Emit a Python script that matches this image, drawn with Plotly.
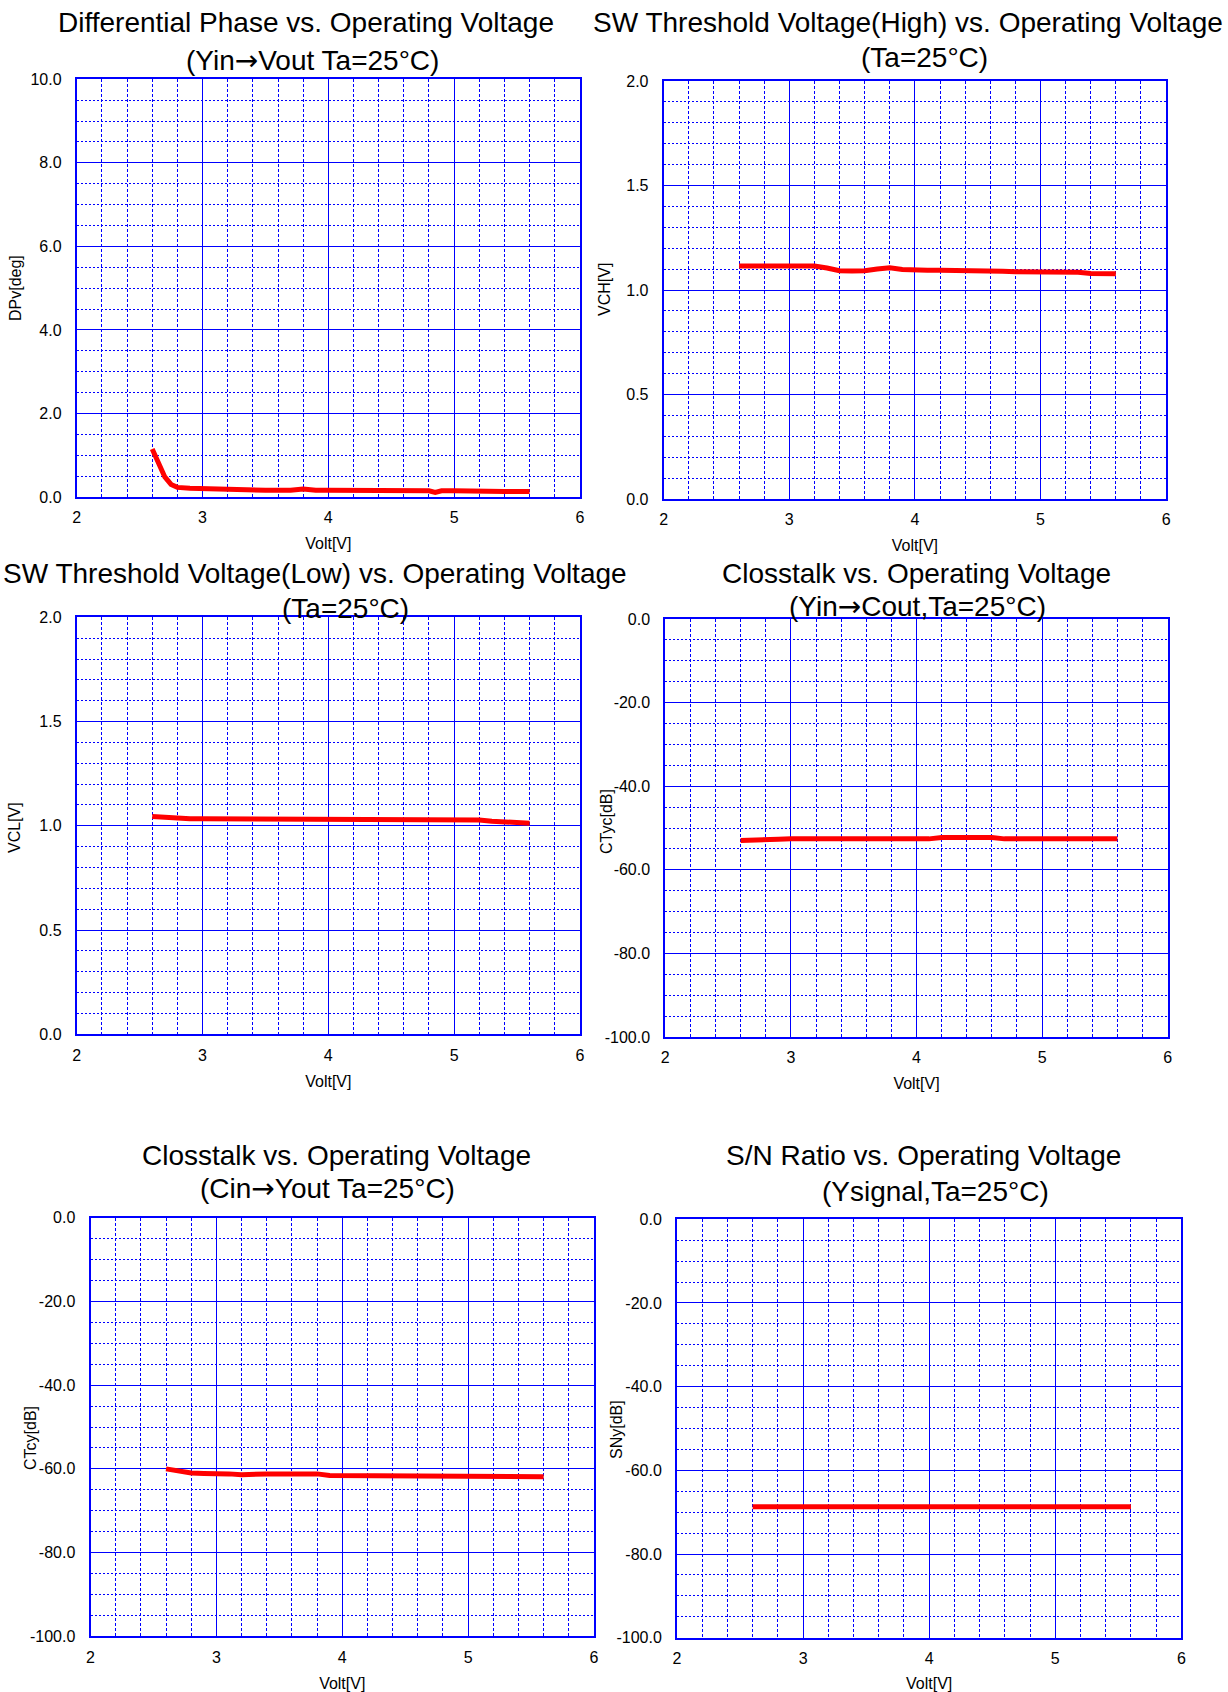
import plotly.graph_objects as go

W, H = 1228, 1692

# ---------------- data ----------------
VOLT_DP = [2.6, 2.65, 2.7, 2.75, 2.8, 2.9, 3.0, 3.1, 3.2, 3.3, 3.4, 3.5, 3.6, 3.7, 3.8, 3.9,
           4.0, 4.1, 4.2, 4.3, 4.4, 4.5, 4.6, 4.7, 4.8, 4.85, 4.9, 5.0, 5.1, 5.2, 5.3, 5.4, 5.5, 5.6]
DPV = [1.15, 0.78, 0.48, 0.30, 0.23, 0.21, 0.20, 0.18, 0.18, 0.18, 0.16, 0.16, 0.16, 0.16, 0.19, 0.16,
       0.16, 0.16, 0.16, 0.16, 0.16, 0.16, 0.16, 0.16, 0.15, 0.11, 0.15, 0.15, 0.14, 0.13, 0.13, 0.13, 0.13, 0.13]

VOLT = [2.6, 2.7, 2.8, 2.9, 3.0, 3.1, 3.2, 3.3, 3.4, 3.5, 3.6, 3.7, 3.8, 3.9, 4.0, 4.1,
        4.2, 4.3, 4.4, 4.5, 4.6, 4.7, 4.8, 4.9, 5.0, 5.1, 5.2, 5.3, 5.4, 5.5, 5.6]

VCH = [1.115, 1.115, 1.115, 1.115, 1.115, 1.115, 1.115, 1.105, 1.092, 1.091, 1.092, 1.100, 1.106, 1.098,
       1.095, 1.095, 1.095, 1.095, 1.095, 1.095, 1.095, 1.090, 1.087, 1.087, 1.087, 1.087, 1.087, 1.085,
       1.079, 1.078, 1.078]

VCL = [1.045, 1.040, 1.034, 1.034, 1.034, 1.034, 1.034, 1.034, 1.034, 1.032, 1.028, 1.033, 1.034, 1.034,
       1.034, 1.034, 1.034, 1.034, 1.034, 1.034, 1.034, 1.029, 1.028, 1.028, 1.028, 1.028, 1.028, 1.022,
       1.018, 1.013, 1.012]

CTYC = [-53.0, -53.0, -52.8, -52.7, -52.6, -52.6, -52.6, -52.6, -52.6, -52.6, -52.6, -52.6, -52.6, -52.6,
        -52.6, -52.6, -52.3, -52.3, -52.3, -52.3, -52.3, -52.6, -52.6, -52.6, -52.6, -52.6, -52.6, -52.6,
        -52.6, -52.6, -52.6]

CTCY = [-60.0, -60.6, -61.0, -61.1, -61.1, -61.2, -61.4, -61.2, -61.2, -61.2, -61.2, -61.2, -61.2, -61.6,
        -61.6, -61.6, -61.6, -61.6, -61.6, -61.6, -61.9, -61.6, -61.6, -61.6, -61.6, -61.6, -61.6, -61.6,
        -61.6, -61.6, -61.9]

SNY = [-68.7, -68.7, -68.7, -68.7, -68.7, -68.7, -68.7, -68.7, -68.7, -68.7, -68.7, -68.7, -68.7, -68.7,
       -68.7, -68.7, -68.7, -68.7, -68.7, -68.7, -68.7, -68.7, -68.7, -68.7, -68.7, -68.7, -68.4, -68.4,
       -68.4, -68.7, -68.7]

X_TICKVALS = [2, 3, 4, 5, 6]
X_TICKTEXT = ["2", "3", "4", "5", "6"]
DP_TICKVALS = [0, 2, 4, 6, 8, 10]
DP_TICKTEXT = ["0.0", "2.0", "4.0", "6.0", "8.0", "10.0"]
V_TICKVALS = [0, 0.5, 1.0, 1.5, 2.0]
V_TICKTEXT = ["0.0", "0.5", "1.0", "1.5", "2.0"]
DB_TICKVALS = [-100, -80, -60, -40, -20, 0]
DB_TICKTEXT = ["-100.0", "-80.0", "-60.0", "-40.0", "-20.0", "0.0"]

ARROW = '<span style="font-family:DejaVu Sans">\u2192</span>'
TITLES = [
    ("Differential Phase vs. Operating Voltage", "(Yin" + ARROW + "Vout Ta=25\u00b0C)"),
    ("SW Threshold Voltage(High) vs. Operating Voltage", "(Ta=25\u00b0C)"),
    ("SW Threshold Voltage(Low) vs. Operating Voltage", "(Ta=25\u00b0C)"),
    ("Closstalk vs. Operating Voltage", "(Yin" + ARROW + "Cout,Ta=25\u00b0C)"),
    ("Closstalk vs. Operating Voltage", "(Cin" + ARROW + "Yout Ta=25\u00b0C)"),
    ("S/N Ratio vs. Operating Voltage", "(Ysignal,Ta=25\u00b0C)"),
]
Y_TITLES = ["DPv[deg]", "VCH[V]", "VCL[V]", "CTyc[dB]", "CTcy[dB]", "SNy[dB]"]
X_TITLE = "Volt[V]"
X_RANGE = [2, 6]
Y_RANGES = [[0, 10], [0, 2], [0, 2], [-100, 0], [-100, 0], [-100, 0]]
Y_TICKS = [(DP_TICKVALS, DP_TICKTEXT), (V_TICKVALS, V_TICKTEXT), (V_TICKVALS, V_TICKTEXT),
           (DB_TICKVALS, DB_TICKTEXT), (DB_TICKVALS, DB_TICKTEXT), (DB_TICKVALS, DB_TICKTEXT)]
Y_MINOR = [0.5, 0.1, 0.1, 5, 5, 5]
SERIES = [(VOLT_DP, DPV), (VOLT, VCH), (VOLT, VCL), (VOLT, CTYC), (VOLT, CTCY), (VOLT, SNY)]

# ---------------- layout geometry (page pixels) ----------------
# (left, right, top, bottom)
BOXES = [
    (76.75, 579.9, 79.3, 497.0),
    (663.7, 1166.1, 81.0, 499.0),
    (76.75, 579.9, 617.3, 1034.3),
    (665.3, 1167.7, 619.0, 1037.0),
    (90.5, 594.0, 1217.7, 1636.3),
    (677.0, 1181.4, 1219.3, 1637.7),
]
# title line centers: (x1, y1, x2, y2)
TITLE_POS = [
    (305.7, 23.0, 312.0, 60.0),
    (908.0, 22.7, 924.0, 58.0),
    (315.0, 573.0, 345.6, 608.0),
    (916.7, 573.0, 917.5, 607.0),
    (336.0, 1155.0, 327.0, 1188.0),
    (923.4, 1155.0, 935.0, 1191.7),
]
YT_POS = [(15, 288), (605, 290), (15, 828), (606, 822), (30, 1438), (616, 1430)]


def px(x):
    return x / W


def py(y):
    return 1 - y / H


FONT = "Liberation Sans, Arial, sans-serif"
BLUE = "#0000FF"

fig = go.Figure()
annotations = []
layout = {}

for i in range(6):
    n = "" if i == 0 else str(i + 1)
    l, r, t, b = BOXES[i]
    xs, ys = SERIES[i]
    tv, tt = Y_TICKS[i]
    fig.add_trace(go.Scatter(x=xs, y=ys, mode="lines", xaxis="x" + n, yaxis="y" + n,
                             line=dict(color="#FF0000", width=5), showlegend=False))
    layout["xaxis" + n] = dict(
        domain=[px(l), px(r)], anchor="y" + n, range=X_RANGE, automargin=False,
        tickmode="array", tickvals=X_TICKVALS, ticktext=X_TICKTEXT,
        showgrid=True, gridcolor=BLUE, gridwidth=1,
        minor=dict(tickmode="linear", dtick=0.2, tick0=0, showgrid=True, gridcolor=BLUE,
                   gridwidth=1, griddash="3px,2px"),
        showline=True, mirror=True, linecolor=BLUE, linewidth=2, zeroline=False,
        ticks="", ticklabelstandoff=5, tickfont=dict(size=16, color="black", family=FONT),
        title=dict(text=X_TITLE, font=dict(size=16, color="black", family=FONT), standoff=13),
        fixedrange=True,
    )
    layout["yaxis" + n] = dict(
        domain=[py(b), py(t)], anchor="x" + n, range=Y_RANGES[i], automargin=False,
        tickmode="array", tickvals=tv, ticktext=tt,
        showgrid=True, gridcolor=BLUE, gridwidth=1,
        minor=dict(tickmode="linear", dtick=Y_MINOR[i], tick0=0, showgrid=True, gridcolor=BLUE,
                   gridwidth=1, griddash="2px,2px"),
        showline=True, mirror=True, linecolor=BLUE, linewidth=2, zeroline=False,
        ticks="", ticklabelstandoff=10, tickfont=dict(size=16, color="black", family=FONT),
        fixedrange=True,
    )
    x1, y1, x2, y2 = TITLE_POS[i]
    t1, t2 = TITLES[i]
    annotations.append(dict(text=t1, x=px(x1), y=py(y1), xref="paper", yref="paper",
                            xanchor="center", yanchor="middle", showarrow=False,
                            font=dict(size=28, color="black", family=FONT)))
    annotations.append(dict(text=t2, x=px(x2), y=py(y2), xref="paper", yref="paper",
                            xanchor="center", yanchor="middle", showarrow=False,
                            font=dict(size=28, color="black", family=FONT)))
    yx, yy = YT_POS[i]
    annotations.append(dict(text=Y_TITLES[i], x=px(yx), y=py(yy), xref="paper", yref="paper",
                            xanchor="center", yanchor="middle", showarrow=False, textangle=-90,
                            font=dict(size=16, color="black", family=FONT)))

fig.update_layout(
    template="none",
    width=W, height=H, margin=dict(l=0, r=0, t=0, b=0, pad=0, autoexpand=False),
    paper_bgcolor="white", plot_bgcolor="white", showlegend=False,
    annotations=annotations, font=dict(family=FONT, color="black"),
    **layout,
)

fig.write_html(
    "out.html",
    config={"displayModeBar": False},
    post_script="document.body.style.margin='0';document.body.style.padding='0';"
                "document.documentElement.style.overflow='hidden';",
)
